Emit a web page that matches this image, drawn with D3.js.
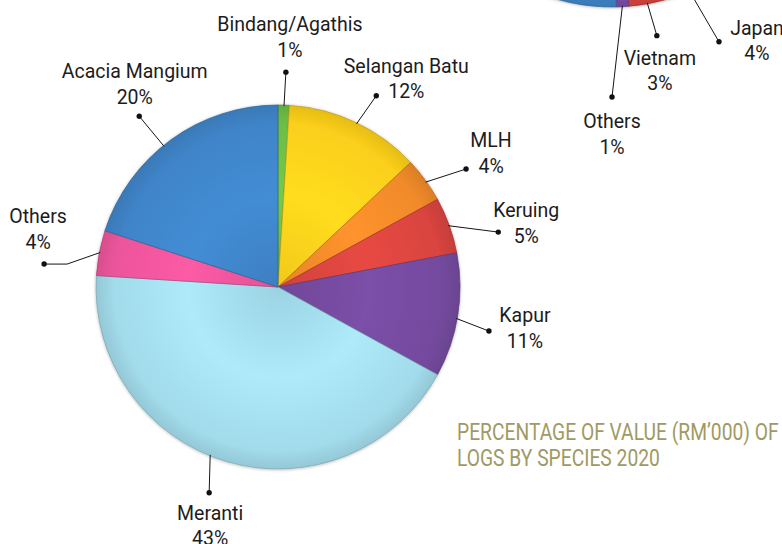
<!DOCTYPE html>
<html><head><meta charset="utf-8">
<script src="https://cdn.jsdelivr.net/npm/d3@7"></script>
<style>
html,body{margin:0;padding:0;background:#fff;}
svg{display:block;}
text{font-family:Roboto,"Noto Sans",sans-serif;}
</style>
</head><body>
<svg id="c" width="782" height="544"></svg>
<script>
// ---------- data ----------
const categories = ["Bindang/Agathis","Selangan Batu","MLH","Keruing","Kapur","Meranti","Others","Acacia Mangium"];
const shares = [1,12,4,5,11,43,4,20];
const sliceColors = ["#6cbd45","#fbcf1a","#f08a2a","#d9443f","#744a9e","#a2dbea","#ec559b","#3f84c8"];

const marketNames = ["Japan","Vietnam","Others","Other markets"];
const marketShares = [4,3,1,92];
const marketColors = ["#f08a2a","#d9443f","#7a4ca6","#3f84c8"];
const marketLabelled = [true,true,true,false];

const titleLines = ["PERCENTAGE OF VALUE (RM\u2019000) OF","LOGS BY SPECIES 2020"];

// ---------- layout ----------
const mainPie = {cx:278, cy:287, r:182, start:0};
const insetPie = {cx:612, cy:-193, r:200, start:150};
// a: rim anchor angle (deg), da/dr: dot polar position, tx/ty: text offset from dot, elbow: horizontal run
const mainLabelLayout = [
  {a:1.9,  da:2.1,   dr:215,   tx:4,    ty:-41},
  {a:25.7, da:27.2,  dr:215,   tx:30,   ty:-23},
  {a:54.6, da:57.9,  dr:222,   tx:25,   ty:-22},
  {a:70.2, da:76,    dr:227,   tx:28,   ty:-15},
  {a:100,  da:101.8, dr:215.5, tx:36,   ty:-9},
  {a:202,  da:198.5, dr:217,   tx:1,    ty:27},
  {a:281,  da:275.6, dr:235,   tx:-6,   ty:-41, elbow:23},
  {a:321,  da:320.9, dr:220,   tx:-4.5, ty:-38}
];
const insetLabelLayout = [
  {a:null, da:155.5, dr:258, tx:38, ty:-7},
  {a:null, da:168.9, dr:233, tx:3,  ty:29},
  {a:null, da:180,   dr:290, tx:0,  ty:31}
];
const lineGap = 25.5;
const fontSize = 19.5;

const svg = d3.select("#c");
const defs = svg.append("defs");
const shadow = defs.append("filter").attr("id","sh").attr("x","-10%").attr("y","-10%").attr("width","120%").attr("height","120%");
shadow.append("feDropShadow").attr("dx",0).attr("dy",0.5).attr("stdDeviation",1.4).attr("flood-color","#000").attr("flood-opacity",0.3);

const rad = d => d*Math.PI/180;
function polar(p, angDeg, r){
  return [p.cx + r*Math.sin(rad(angDeg)), p.cy - r*Math.cos(rad(angDeg))];
}

function drawPie(p, names, values, colors, idPrefix){
  const pie = d3.pie().sort(null).value(d=>d)
    .startAngle(rad(p.start)).endAngle(rad(p.start)+2*Math.PI);
  const arcs = pie(values);
  const arc = d3.arc().innerRadius(0).outerRadius(p.r);
  colors.forEach((c,i)=>{
    const base = d3.color(c);
    const g = defs.append("radialGradient").attr("id",idPrefix+i)
      .attr("gradientUnits","userSpaceOnUse")
      .attr("cx",0).attr("cy",0).attr("r",p.r)
      .attr("fx",0).attr("fy",0);
    g.append("stop").attr("offset","0%").attr("stop-color",base.darker(0.1));
    g.append("stop").attr("offset","50%").attr("stop-color",base.brighter(0.18));
    g.append("stop").attr("offset","90%").attr("stop-color",base);
    g.append("stop").attr("offset","100%").attr("stop-color",base.darker(0.25));
  });
  const g = svg.append("g").attr("transform",`translate(${p.cx},${p.cy})`).attr("filter","url(#sh)");
  g.selectAll("path").data(arcs).join("path")
    .attr("d",arc)
    .attr("fill",(d,i)=>`url(#${idPrefix}${i})`)
    .attr("stroke",(d,i)=>d3.color(colors[i]).darker(0.8))
    .attr("stroke-width",0.7)
    .attr("stroke-linejoin","round");
  return arcs;
}

function drawLabels(p, arcs, names, values, layout, filter){
  const lg = svg.append("g");
  arcs.forEach((d,i)=>{
    if(filter && !filter[i]) return;
    const L = layout[i];
    const mid = (d.startAngle+d.endAngle)/2*180/Math.PI;
    const anchorA = L.a==null ? mid : L.a;
    const rim = polar(p, anchorA, p.r - 1);
    const dot = polar(p, L.da, L.dr);
    let pts = [rim];
    if(L.elbow) pts.push([dot[0]+L.elbow, dot[1]]);
    pts.push(dot);
    lg.append("path").attr("d",d3.line()(pts))
      .attr("fill","none").attr("stroke","#151515").attr("stroke-width",1);
    lg.append("circle").attr("cx",dot[0]).attr("cy",dot[1]).attr("r",2.7).attr("fill","#111");
    const tx = dot[0]+L.tx, ty = dot[1]+L.ty;
    lg.append("text").attr("x",tx).attr("y",ty).attr("text-anchor","middle")
      .attr("font-size",fontSize).attr("fill","#1c1c1c").text(names[i]);
    lg.append("text").attr("x",tx).attr("y",ty+lineGap).attr("text-anchor","middle")
      .attr("font-size",fontSize).attr("fill","#1c1c1c").text(values[i]+"%");
  });
}

// inset (cropped) pie
const insetArcs = drawPie(insetPie, marketNames, marketShares, marketColors, "ig");
// main pie
const mainArcs = drawPie(mainPie, categories, shares, sliceColors, "mg");

drawLabels(insetPie, insetArcs, marketNames, marketShares, insetLabelLayout, marketLabelled);
drawLabels(mainPie, mainArcs, categories, shares, mainLabelLayout, null);

// title
const tg = svg.append("g").attr("transform","translate(457,440)");
const t1 = tg.append("text").attr("x",0).attr("y",0).attr("font-size",23.5).attr("fill","#a09a62").text(titleLines[0]);
tg.append("text").attr("x",0).attr("y",26).attr("font-size",23.5).attr("fill","#a09a62").text(titleLines[1]);
const w1 = t1.node().getComputedTextLength();
const k = 322/w1;
tg.attr("transform",`translate(457,440) scale(${k},1)`);
</script>
</body></html>
